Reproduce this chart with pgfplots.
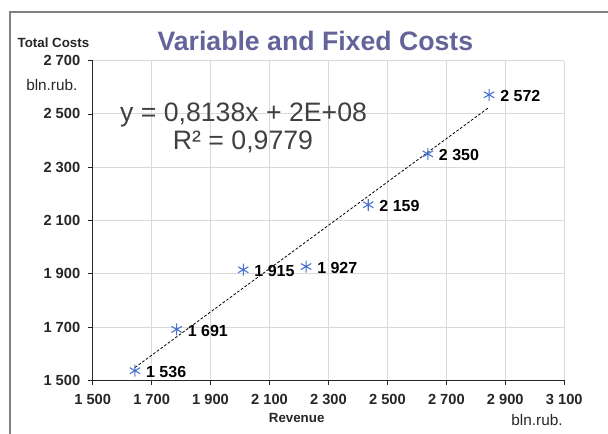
\documentclass[border=0pt]{standalone}
\usepackage{fontspec}
\setmainfont{Liberation Sans}
\usepackage{pgfplots}
\usepackage{pgfplotstable}
\pgfplotsset{compat=1.18}
\definecolor{titlec}{RGB}{100,100,155}
\definecolor{mk}{RGB}{70,114,210}
\definecolor{txt}{RGB}{38,38,38}
\definecolor{eqc}{RGB}{64,64,64}
\definecolor{gridc}{RGB}{217,217,217}
\definecolor{framec}{RGB}{128,128,128}

\pgfplotstableread[col sep=comma,row sep=\\]{
X,Y,L\\
1643.5,1536,1 536\\
1785,1691,1 691\\
2011,1915,1 915\\
2224,1927,1 927\\
2435,2159,2 159\\
2637,2350,2 350\\
2845,2572,2 572\\
}\data

\begin{document}
\begin{tikzpicture}
\useasboundingbox (0,0) rectangle (456pt,-324.75pt);
\draw[framec, line width=0.8pt] (7.5pt,-340pt) -- (7.5pt,-9pt) -- (470pt,-9pt);
\node[font=\fontsize{20}{24}\selectfont\bfseries, text=titlec] at (236.5pt,-30.4pt) {Variable and Fixed Costs};
\node[font=\fontsize{10}{12}\selectfont\bfseries, text=txt] at (40.1pt,-32.25pt) {Total Costs};
\node[font=\fontsize{11.5}{13}\selectfont, text=txt, anchor=west, inner sep=0pt] at (19.5pt,-63.75pt) {bln.rub.};
\node[font=\fontsize{10}{12}\selectfont\bfseries, text=txt] at (222.5pt,-313.7pt) {Revenue};
\node[font=\fontsize{11.5}{13}\selectfont, text=txt] at (402.75pt,-315pt) {bln.rub.};
\begin{axis}[
  at={(69.5pt,-285.2pt)}, anchor=south west,
  scale only axis, width=353.7pt, height=239.7pt,
  xmin=1500, xmax=3100, ymin=1500, ymax=2700,
  xtick={1500,1700,...,3100}, ytick={1500,1700,...,2700},
  xticklabels={1 500,1 700,1 900,2 100,2 300,2 500,2 700,2 900,3 100},
  yticklabels={1 500,1 700,1 900,2 100,2 300,2 500,2 700},
  axis lines=left,
  axis line style={-, black!85, line width=0.75pt},
  tick align=outside, major tick length=3.3pt,
  tick style={black!85, line width=0.6pt},
  ticklabel style={font=\fontsize{11}{13}\selectfont\bfseries, text=txt},
  xticklabel style={yshift=-3.5pt},
  yticklabel style={xshift=-2.5pt},
  grid=major, grid style={gridc, line width=0.75pt},
  clip=false,
]
\addplot[black, dash pattern=on 2pt off 1.4pt, line width=0.6pt] table[x=X, y={create col/linear regression={y=Y}}] {\data};
\addplot[only marks, mark=asterisk, mark size=4.5pt, mk, line width=0.8pt,
  point meta=explicit symbolic, nodes near coords,
  every node near coord/.append style={anchor=west, xshift=8pt, yshift=-1pt, inner sep=0pt,
    font=\fontsize{12}{14}\selectfont\bfseries, text=black}]
  table[x=X, y=Y, meta=L] {\data};
\node[font=\fontsize{20}{24}\selectfont, text=eqc] at (axis cs:2012,2496) {y = 0,8138x + 2E+08};
\node[font=\fontsize{20}{24}\selectfont, text=eqc] at (axis cs:2010,2396) {R² = 0,9779};
\end{axis}
\end{tikzpicture}
\end{document}
